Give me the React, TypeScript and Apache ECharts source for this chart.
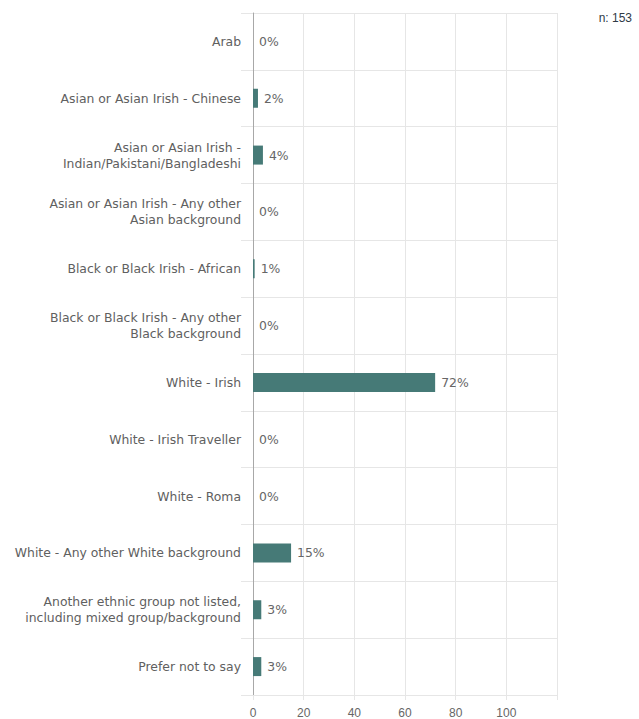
import React, { useEffect, useRef } from "react";
import * as echarts from "echarts";

const categories = [
  "Arab",
  "Asian or Asian Irish - Chinese",
  "Asian or Asian Irish -\nIndian/Pakistani/Bangladeshi",
  "Asian or Asian Irish - Any other\nAsian background",
  "Black or Black Irish - African",
  "Black or Black Irish - Any other\nBlack background",
  "White - Irish",
  "White - Irish Traveller",
  "White - Roma",
  "White - Any other White background",
  "Another ethnic group not listed,\nincluding mixed group/background",
  "Prefer not to say",
];

const percentages = [0, 1.96, 3.92, 0, 0.65, 0, 71.9, 0, 0, 15.03, 3.27, 3.27];

const xTicks = [0, 20, 40, 60, 80, 100];
const sampleLabel = "n: 153";

export default function App() {
  const ref = useRef<HTMLDivElement>(null);
  useEffect(() => {
    if (!ref.current) return;
    const chart = echarts.init(ref.current, null, { renderer: "svg" });
    const font = "DejaVu Sans, Verdana, sans-serif";
    chart.setOption({
      animation: false,
      textStyle: { fontFamily: font },
      title: {
        text: sampleLabel,
        right: 2,
        top: 7,
        textStyle: { fontSize: 12, fontWeight: "normal", color: "#2f3a46", fontFamily: "Liberation Sans, Arial, sans-serif" },
      },
      grid: { left: 253, right: 82, top: 13, bottom: 24, containLabel: false },
      xAxis: {
        type: "value",
        min: 0,
        max: 120,
        interval: 20,
        axisLine: { show: false },
        axisTick: { show: true, length: 5, lineStyle: { color: "#e6e6e6" } },
        splitLine: { show: true, lineStyle: { color: "#e6e6e6", width: 1 } },
        axisLabel: {
          color: "#666",
          fontSize: 12,
          fontFamily: "Liberation Sans, Arial, sans-serif",
          margin: 12,
          formatter: (v: number) => (xTicks.includes(v) ? String(v) : ""),
        },
      },
      yAxis: {
        type: "category",
        inverse: true,
        data: categories,
        axisLine: { show: true, lineStyle: { color: "#a8a8a8", width: 1 } },
        axisTick: { show: true, length: 12, lineStyle: { color: "#e6e6e6" } },
        splitLine: { show: true, lineStyle: { color: "#e6e6e6", width: 1 } },
        axisLabel: {
          color: "#606060",
          fontSize: 12.4,
          fontFamily: font,
          margin: 12,
          lineHeight: 16,
          align: "right",
        },
      },
      series: [
        {
          type: "bar",
          data: percentages,
          barWidth: 19,
          itemStyle: { color: "#467a77" },
          label: {
            show: true,
            position: "right",
            distance: 6,
            color: "#666",
            fontSize: 12.4,
            fontFamily: font,
            formatter: (p: any) => Math.round(p.value) + "%",
          },
        },
      ],
    });
    return () => chart.dispose();
  }, []);
  return (
    <div
      ref={ref}
      style={{ position: "fixed", left: 0, top: 0, width: 639, height: 719, background: "#fff" }}
    />
  );
}
